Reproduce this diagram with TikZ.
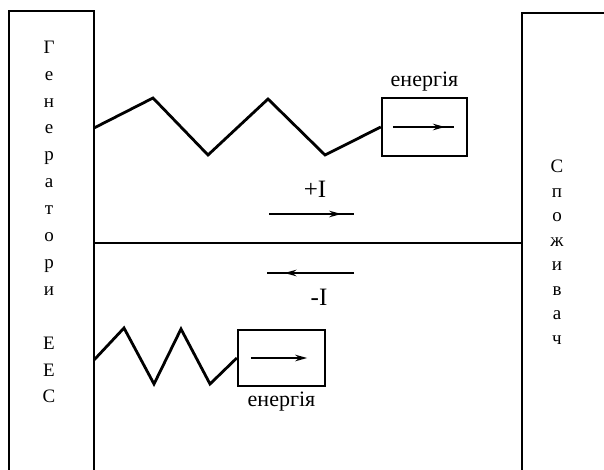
\documentclass[tikz,border=0pt]{standalone}
\usepackage{fontspec}
\setmainfont{Liberation Serif}
\usetikzlibrary{arrows.meta,decorations.markings,positioning}
\begin{document}
\begin{tikzpicture}[x=1pt,y=-1pt,
  wall/.style={line width=2.4pt},
  zig/.style={line width=2.8pt, line join=miter},
  ebox/.style={draw, line width=2.4pt, inner sep=0pt},
  lbl/.style={font=\fontsize{22}{22}\selectfont, inner sep=0pt},
  big/.style={font=\fontsize{25}{25}\selectfont, inner sep=0pt},
  cur/.style={line width=2pt},
  midarrow/.style={postaction={decorate}, decoration={markings,
      mark=at position #1 with {\arrow{Stealth[length=12pt,width=6.5pt]}}}}]
\useasboundingbox[fill=white] (0,0) rectangle (604,470);
% generator wall
\coordinate (g0) at (9,470);
\coordinate (g1) at (9,11);
\coordinate (g2) at (94,11);
\coordinate (g3) at (94,470);
\draw[wall] (g0) -- (g1) -- (g2) -- (g3);
% consumer wall
\coordinate (c0) at (522,470);
\coordinate (c1) at (522,13);
\coordinate (c2) at (604,13);
\draw[wall] (c0) -- (c1) -- (c2);
% middle line
\coordinate (m0) at (94,243);
\coordinate (m1) at (522,243);
\draw[line width=1.8pt] (m0) -- (m1);
% texts in walls
\node[font=\fontsize{19}{26.9}\selectfont, align=center, inner sep=0pt] (gen) at (49,222)
  {Г\\е\\н\\е\\р\\а\\т\\о\\р\\и\\[26.9pt]Е\\Е\\С};
\node[font=\fontsize{19}{24.5}\selectfont, align=center, inner sep=0pt] (cons) at (557,252)
  {С\\п\\о\\ж\\и\\в\\а\\ч};
% upper energy box
\node[ebox, minimum width=85pt, minimum height=58pt] (e1) at (424.5,127) {};
\node[lbl, above=5pt of e1] (t1) {енергія};
\path (e1.west) ++(12,0) coordinate (e1a);
\path (e1.east) ++(-14,0) coordinate (e1b);
\draw[cur, midarrow=0.85] (e1a) -- (e1b);
% upper zigzag
\coordinate (u0) at (94,128);
\coordinate (u1) at (153,98);
\coordinate (u2) at (208,155);
\coordinate (u3) at (268,99);
\coordinate (u4) at (325,155);
\draw[zig] (u0) -- (u1) -- (u2) -- (u3) -- (u4) -- (e1.west);
% lower energy box
\node[ebox, minimum width=87pt, minimum height=56pt] (e2) at (281.5,358) {};
\node[lbl, below=5pt of e2] (t2) {енергія};
\path (e2.west) ++(14,0) coordinate (e2a);
\path (e2.east) ++(-19,0) coordinate (e2b);
\draw[cur, -{Stealth[length=12pt,width=6.5pt]}] (e2a) -- (e2b);
% lower zigzag
\coordinate (l0) at (94,360);
\coordinate (l1) at (124,328);
\coordinate (l2) at (154,384);
\coordinate (l3) at (181,329);
\coordinate (l4) at (210,384);
\draw[zig] (l0) -- (l1) -- (l2) -- (l3) -- (l4) -- (e2.west);
% currents
\coordinate (p0) at (269,214);
\coordinate (p1) at (354,214);
\draw[cur, midarrow=0.85] (p0) -- (p1);
\node[big] (pI) at (315,189) {+I};
\coordinate (n0) at (354,273);
\coordinate (n1) at (267,273);
\draw[cur, midarrow=0.8] (n0) -- (n1);
\node[big] (nI) at (319,297) {-I};
\end{tikzpicture}
\end{document}
